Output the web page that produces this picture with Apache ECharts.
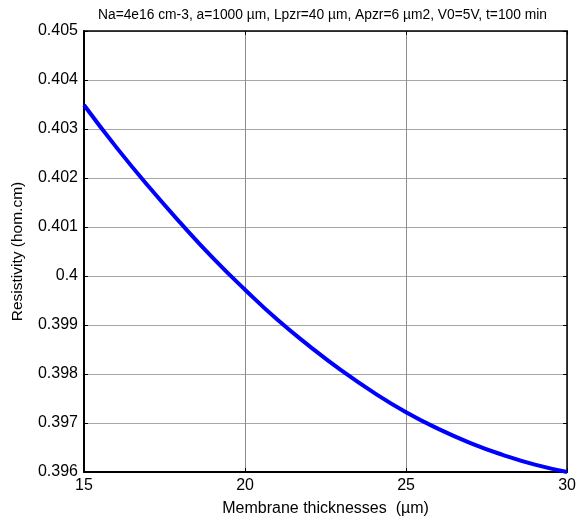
<!DOCTYPE html>
<html>
<head>
<meta charset="utf-8">
<script src="https://cdn.jsdelivr.net/npm/echarts@6/dist/echarts.min.js"></script>
<style>html,body{margin:0;padding:0;background:#fff;}#c{width:579px;height:522px;}</style>
</head>
<body>
<div id="c"></div>
<script>
// Data
var thickness = [15, 16, 17, 18, 19, 20, 21, 22, 23, 24, 25, 26, 27, 28, 29, 30];
var resistivity = [0.40349, 0.40263, 0.40183, 0.40108, 0.40037, 0.39972, 0.39911, 0.39857, 0.39807, 0.39762, 0.39722, 0.39688, 0.39659, 0.39635, 0.39615, 0.39600];
var xTicks = [15, 20, 25, 30];
var yTicks = ['0.396', '0.397', '0.398', '0.399', '0.4', '0.401', '0.402', '0.403', '0.404', '0.405'];
var titleText = 'Na=4e16 cm-3, a=1000 µm, Lpzr=40 µm, Apzr=6 µm2, V0=5V, t=100 min';
var xName = 'Membrane thicknesses  (µm)';
var yName = 'Resistivity (hom.cm)';

var font = 'Liberation Sans, Arial, Helvetica, sans-serif';
var pts = thickness.map(function (x, i) { return [x, resistivity[i]]; });
var chart = echarts.init(document.getElementById('c'), null, {renderer: 'canvas'});
chart.setOption({
  animation: false,
  backgroundColor: '#fff',
  title: {
    text: titleText,
    left: 93, top: 3,
    textStyle: {fontFamily: font, fontSize: 13.8, fontWeight: 'normal', color: '#000'}
  },
  grid: {left: 84, right: 9, top: 31, bottom: 49, containLabel: false},
  xAxis: [{
    type: 'value', min: 15, max: 30, interval: 5,
    name: xName, nameLocation: 'middle', nameGap: 29,
    nameTextStyle: {fontFamily: font, fontSize: 16, color: '#000'},
    axisLine: {show: true, onZero: false, lineStyle: {color: '#000', width: 2}},
    axisTick: {show: true, inside: true, length: 4, lineStyle: {color: '#000'}},
    axisLabel: {fontFamily: font, fontSize: 16, color: '#000', margin: 6,
      formatter: function (v) { return String(v); }},
    splitLine: {show: true, lineStyle: {color: '#8c8c8c', width: 1}}
  }, {
    type: 'value', min: 15, max: 30, interval: 5, position: 'top',
    axisLine: {show: true, lineStyle: {color: '#000', width: 1.5}},
    axisTick: {show: true, inside: true, length: 4, lineStyle: {color: '#000'}},
    axisLabel: {show: false}, splitLine: {show: false}
  }],
  yAxis: [{
    type: 'value', min: 0.396, max: 0.405, interval: 0.001,
    name: yName, nameLocation: 'middle', nameGap: 58, nameRotate: 90,
    nameTextStyle: {fontFamily: font, fontSize: 15.5, color: '#000'},
    axisLine: {show: true, onZero: false, lineStyle: {color: '#000', width: 2}},
    axisTick: {show: true, inside: true, length: 4, lineStyle: {color: '#000'}},
    axisLabel: {fontFamily: font, fontSize: 16, color: '#000', margin: 6,
      formatter: function (v) {
        var idx = Math.round((v - 0.396) / 0.001);
        return yTicks[idx] !== undefined ? yTicks[idx] : String(v);
      }},
    splitLine: {show: true, lineStyle: {color: '#a6a6a6', width: 1}}
  }, {
    type: 'value', min: 0.396, max: 0.405, interval: 0.001, position: 'right',
    axisLine: {show: true, lineStyle: {color: '#000', width: 1.5}},
    axisTick: {show: true, inside: true, length: 4, lineStyle: {color: '#000'}},
    axisLabel: {show: false}, splitLine: {show: false}
  }],
  series: [{
    type: 'line', data: pts, smooth: true, showSymbol: false,
    xAxisIndex: 0, yAxisIndex: 0,
    lineStyle: {color: '#0000ff', width: 4},
    itemStyle: {color: '#0000ff'}
  }]
});
</script>
</body>
</html>
